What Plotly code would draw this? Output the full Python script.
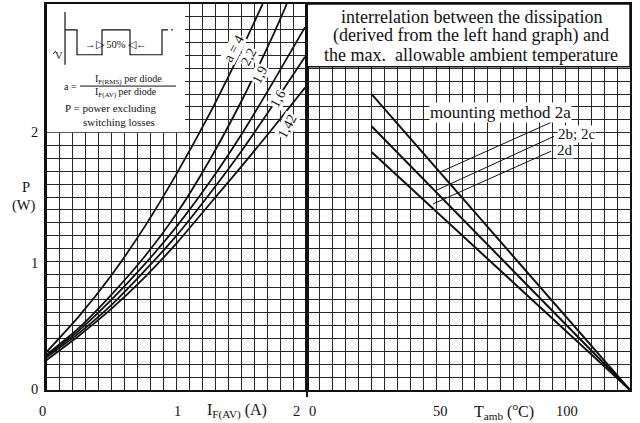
import plotly.graph_objects as go

# ---------------- data ----------------
# Left graph: P (W) versus I_F(AV) (A) for several form factors a
curve_labels = ["a = 4", "2,2", "1,9", "1,6", "1,42"]
i_a4 = [0, 0.25, 0.5, 0.75, 1.0, 1.25, 1.5, 1.66]
p_a4 = [0.29, 0.57, 0.89, 1.26, 1.68, 2.14, 2.65, 3.0]
i_a22 = [0, 0.25, 0.5, 0.75, 1.0, 1.25, 1.5, 1.75, 1.845]
p_a22 = [0.27, 0.48, 0.74, 1.03, 1.37, 1.78, 2.25, 2.78, 3.0]
i_a19 = [0, 0.25, 0.5, 0.75, 1.0, 1.25, 1.5, 1.75, 1.985]
p_a19 = [0.26, 0.46, 0.70, 0.97, 1.27, 1.61, 1.99, 2.41, 2.82]
i_a16 = [0, 0.25, 0.5, 0.75, 1.0, 1.25, 1.5, 1.75, 1.985]
p_a16 = [0.25, 0.44, 0.66, 0.92, 1.20, 1.52, 1.86, 2.23, 2.59]
i_a142 = [0, 0.25, 0.5, 0.75, 1.0, 1.25, 1.5, 1.75, 1.985]
p_a142 = [0.23, 0.42, 0.63, 0.87, 1.14, 1.44, 1.74, 2.05, 2.35]

# Right graph: P (W) versus T_amb (degC) per mounting method
mount_labels = ["mounting method 2a", "2b; 2c", "2d"]
t_amb = [25, 125]
p_2a = [2.30, 0.0]
p_2bc = [2.05, 0.0]
p_2d = [1.85, 0.0]

# Tick labels
y_ticks = [0, 1, 2]
i_ticks = [0, 1, 2]
t_ticks = [0, 50, 100]

# ---------------- figure ----------------
W, H = 640, 423
ML, MR, MT, MB = 46, 10, 2, 33
PW, PH = W - ML - MR, H - MT - MB
X_SPLIT = (307 - ML) / PW

def px(x):
    return (x - ML) / PW

def py(y):
    return (H - MB - y) / PH

SERIF = "Liberation Serif"
INK = "#111111"
GRID = "#262626"

fig = go.Figure()

for xs, ys in [(i_a4, p_a4), (i_a22, p_a22), (i_a19, p_a19), (i_a16, p_a16), (i_a142, p_a142)]:
    fig.add_trace(go.Scatter(x=xs, y=ys, mode="lines", xaxis="x", yaxis="y",
                             line=dict(color=INK, width=1.8, shape="spline", smoothing=0.6),
                             hoverinfo="skip", showlegend=False))

for ys in [p_2a, p_2bc, p_2d]:
    fig.add_trace(go.Scatter(x=t_amb, y=ys, mode="lines", xaxis="x2", yaxis="y2",
                             line=dict(color=INK, width=2),
                             hoverinfo="skip", showlegend=False))

axis_common = dict(showgrid=True, gridcolor=GRID, gridwidth=1, zeroline=False,
                   showticklabels=False, ticks="", showline=True, linecolor=INK,
                   linewidth=2, mirror=True)

fig.update_layout(
    width=W, height=H,
    margin=dict(l=ML, r=MR, t=MT, b=MB),
    paper_bgcolor="white", plot_bgcolor="white",
    xaxis=dict(domain=[0, X_SPLIT], range=[0, 2], dtick=0.1, anchor="y", **axis_common),
    xaxis2=dict(domain=[X_SPLIT, 1], range=[0, 125], dtick=5, anchor="y2", **axis_common),
    yaxis=dict(domain=[0, 1], range=[0, 3], dtick=0.1, anchor="x", **axis_common),
    yaxis2=dict(domain=[0, 1], range=[0, 3], dtick=0.1, anchor="x2", **axis_common),
    font=dict(family=SERIF, color=INK),
)

shapes = []
# inset box (left) and text box (right)
shapes.append(dict(type="rect", xref="paper", yref="paper", x0=px(46), x1=px(185), y0=py(131), y1=py(2),
                   fillcolor="white", line=dict(width=0), layer="above"))
shapes.append(dict(type="rect", xref="paper", yref="paper", x0=px(307), x1=px(630), y0=py(65), y1=py(2),
                   fillcolor="white", line=dict(color=INK, width=1.5), layer="above"))
# border lines redrawn over the boxes
shapes.append(dict(type="line", xref="paper", yref="paper", x0=px(46), x1=px(46), y0=0, y1=1,
                   line=dict(color=INK, width=2), layer="above"))
shapes.append(dict(type="line", xref="paper", yref="paper", x0=px(307), x1=px(307), y0=py(397), y1=1,
                   line=dict(color=INK, width=2), layer="above"))
# waveform sketch
shapes.append(dict(type="line", xref="paper", yref="paper", x0=px(65), x1=px(65), y0=py(10), y1=py(63),
                   line=dict(color=INK, width=1.2), layer="above"))
wave = [(65, 28), (77, 28), (77, 53), (102, 53), (102, 28), (130, 28), (130, 53), (162, 53), (162, 28), (168, 28)]
path = "M " + " L ".join(f"{px(a):.5f},{py(b):.5f}" for a, b in wave)
shapes.append(dict(type="path", xref="paper", yref="paper", path=path,
                   line=dict(color=INK, width=1.2), layer="above"))
shapes.append(dict(type="line", xref="paper", yref="paper", x0=px(171), x1=px(173), y0=py(28), y1=py(28),
                   line=dict(color=INK, width=1), layer="above"))
shapes.append(dict(type="line", xref="paper", yref="paper", x0=px(53), x1=px(56), y0=py(52), y1=py(49),
                   line=dict(color=INK, width=1), layer="above"))
# fraction bar
shapes.append(dict(type="line", xref="paper", yref="paper", x0=px(80), x1=px(176), y0=py(84.5), y1=py(84.5),
                   line=dict(color=INK, width=1), layer="above"))
# leader lines for mounting-method labels
for (x0, y0, x1, y1) in [(551, 121, 440, 171), (554, 135, 437, 189), (551, 150, 433, 203)]:
    shapes.append(dict(type="line", xref="paper", yref="paper", x0=px(x0), y0=py(y0), x1=px(x1), y1=py(y1),
                       line=dict(color=INK, width=1), layer="above"))
fig.update_layout(shapes=shapes)

ann = []
def note(x, y, text, size=14, angle=0, bg=None, xanchor="center"):
    d = dict(xref="paper", yref="paper", x=px(x), y=py(y), text=text, showarrow=False,
             font=dict(family=SERIF, size=size, color=INK), textangle=angle,
             xanchor=xanchor, yanchor="middle")
    if bg:
        d["bgcolor"] = bg
        d["borderpad"] = 0
    ann.append(d)

# y tick labels and title
for v, yy in zip(y_ticks, [389, 262, 131]):
    note(34, yy, str(v), 14.5)
note(26, 186, "P", 14.5)
note(24, 205, "(W)", 14.5)
# x tick labels
for v, xx in zip(i_ticks, [42, 177, 296]):
    note(xx, 411, str(v), 14.5)
for v, xx in zip(t_ticks, [312, 440, 567]):
    note(xx, 411, str(v), 14.5)
note(237, 411, "I<sub>F(AV)</sub> (A)", 16)
note(504, 411, "T<sub>amb</sub> (<sup>o</sup>C)", 16)

# right text box
note(471, 15, "interrelation between the dissipation", 18)
note(471, 34, "(derived from the left hand graph) and", 18)
note(471, 53, "the max.  allowable ambient temperature", 18)

# inset text
note(116, 43, "\u2192\u25b7 50% \u25c1\u2190", 10.5)
note(59, 54, "V", 10.5)
note(70, 85, "a =", 10)
note(128, 78, "I<sub>F(RMS)</sub> per diode", 10)
note(126, 91, "I<sub>F(AV)</sub> per diode", 10)
note(111, 107, "P = power excluding", 11)
note(119, 121, "switching losses", 11)

# curve labels
for lab, (x, y) in zip(curve_labels, [(234, 47), (249, 55), (260, 73), (278, 97), (287, 125)]):
    note(x, y, lab, 14, angle=-62, bg="white")

# mounting labels
note(501, 111, mount_labels[0], 17, bg="white")
note(576, 133, mount_labels[1], 15, bg="white")
note(565, 149, mount_labels[2], 15, bg="white")

fig.update_layout(annotations=ann)
fig.write_html("out.html", config={"displayModeBar": False},
               post_script="document.body.style.margin='0';document.body.style.overflow='hidden';")
